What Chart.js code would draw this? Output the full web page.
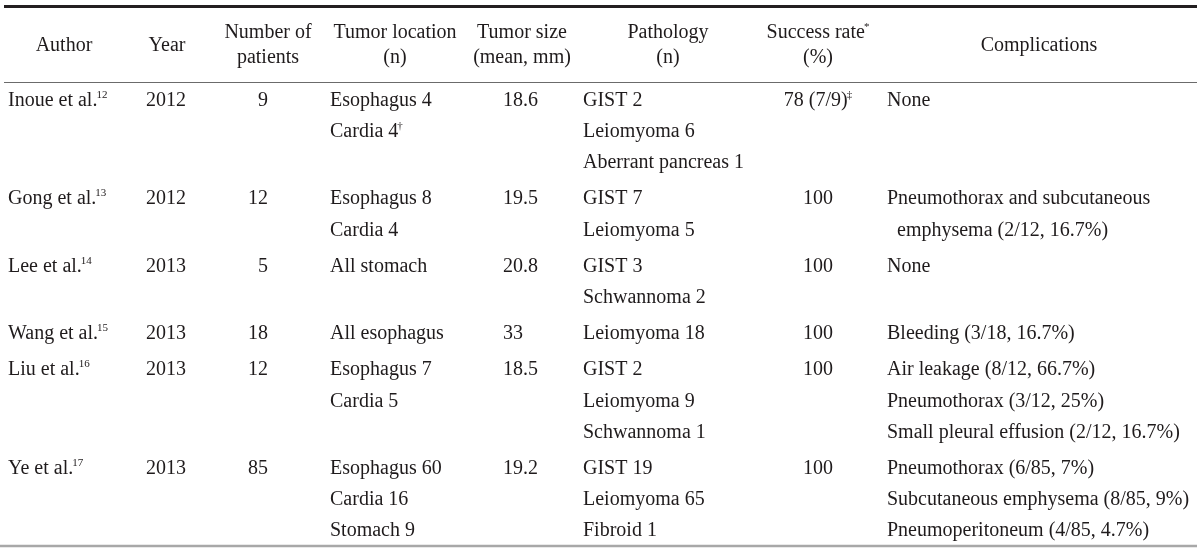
<!DOCTYPE html>
<html>
<head>
<meta charset="utf-8">
<script src="https://cdn.jsdelivr.net/npm/chart.js@4/dist/chart.umd.min.js"></script>
<style>
html,body{margin:0;padding:0;background:#fff;}
#wrap{width:1200px;height:554px;}
</style>
</head>
<body>
<div id="wrap"><canvas id="c" width="1200" height="554"></canvas></div>
<script>
// ---- table data ----
const headers = [['Author'], ['Year'], ['Number of', 'patients'], ['Tumor location', '(n)'], ['Tumor size', '(mean, mm)'], ['Pathology', '(n)'], ['Success rate^*', '(%)'], ['Complications']];
const authors = ['Inoue et al.', 'Gong et al.', 'Lee et al.', 'Wang et al.', 'Liu et al.', 'Ye et al.'];
const authorRefs = ['12', '13', '14', '15', '16', '17'];
const years = ['2012', '2012', '2013', '2013', '2013', '2013'];
const patients = [9, 12, 5, 18, 12, 85];
const tumorLocation = [['Esophagus 4', 'Cardia 4^†'], ['Esophagus 8', 'Cardia 4'], ['All stomach'], ['All esophagus'], ['Esophagus 7', 'Cardia 5'], ['Esophagus 60', 'Cardia 16', 'Stomach 9']];
const tumorSize = ['18.6', '19.5', '20.8', '33', '18.5', '19.2'];
const pathology = [['GIST 2', 'Leiomyoma 6', 'Aberrant pancreas 1'], ['GIST 7', 'Leiomyoma 5'], ['GIST 3', 'Schwannoma 2'], ['Leiomyoma 18'], ['GIST 2', 'Leiomyoma 9', 'Schwannoma 1'], ['GIST 19', 'Leiomyoma 65', 'Fibroid 1']];
const successRate = ['78 (7/9)^‡', '100', '100', '100', '100', '100'];
const complications = [['None'], ['Pneumothorax and subcutaneous emphysema (2/12, 16.7%)'], ['None'], ['Bleeding (3/18, 16.7%)'], ['Air leakage (8/12, 66.7%)', 'Pneumothorax (3/12, 25%)', 'Small pleural effusion (2/12, 16.7%)'], ['Pneumothorax (6/85, 7%)', 'Subcutaneous emphysema (8/85, 9%)', 'Pneumoperitoneum (4/85, 4.7%)']];

// ---- layout (positions / styles only) ----
const FONT_FAMILY = '"Liberation Serif", "DejaVu Serif", serif';
const layout = {
  colX: [8, 166, 268, 330, 503, 583, 818, 887],
  colAlign: ['left', 'center', 'right', 'left', 'left', 'left', 'center', 'left'],
  headX: [64, 167, 268, 395, 522, 668, 818, 1039],
  headY1: 33, headY2: 58, headY: 46,
  firstLineY: 100.5, lineH: 31.2, rowGap: 5,
  wrapW: 310, indent: 10,
  fontSize: 20, supSize: 11, supRise: 5.5, supGap: -1,
  textColor: '#1f1b1c'
};

const measureCtx = document.createElement('canvas').getContext('2d');
measureCtx.font = layout.fontSize + 'px ' + FONT_FAMILY;
function wrapText(s) {
  const words = s.split(' ');
  const out = [];
  let cur = '';
  for (const w of words) {
    const t = cur ? cur + ' ' + w : w;
    const maxW = layout.wrapW - (out.length ? layout.indent : 0);
    if (cur && measureCtx.measureText(t).width > maxW) { out.push(cur); cur = w; }
    else cur = t;
  }
  if (cur) out.push(cur);
  return out.map((t, i) => ({ t, cont: i > 0 }));
}
function splitSup(s) {
  s = String(s);
  const i = s.indexOf('^');
  return i < 0 ? { text: s, sup: '' } : { text: s.slice(0, i), sup: s.slice(i + 1) };
}

// Build cell points
const cells = [];
headers.forEach((h, c) => {
  const ys = h.length === 2 ? [layout.headY1, layout.headY2] : [layout.headY];
  h.forEach((line, j) => {
    const p = splitSup(line);
    cells.push({ x: layout.headX[c], y: ys[j], text: p.text, sup: p.sup, align: 'center' });
  });
});
let linesBefore = 0;
authors.forEach((a, r) => {
  const cols = [
    [{ t: a + '^' + authorRefs[r] }],
    [{ t: years[r] }],
    [{ t: String(patients[r]) }],
    tumorLocation[r].map(t => ({ t })),
    [{ t: tumorSize[r] }],
    pathology[r].map(t => ({ t })),
    [{ t: successRate[r] }],
    complications[r].flatMap(item => wrapText(item))
  ];
  let maxLines = 0;
  cols.forEach((lines, c) => {
    maxLines = Math.max(maxLines, lines.length);
    lines.forEach((ln, j) => {
      const p = splitSup(ln.t);
      cells.push({
        x: layout.colX[c] + (ln.cont ? layout.indent : 0),
        y: layout.firstLineY + (linesBefore + j) * layout.lineH + r * layout.rowGap,
        text: p.text, sup: p.sup, align: layout.colAlign[c]
      });
    });
  });
  linesBefore += maxLines;
});

function rule(y, x0, x1, w, color) {
  return { type: 'line', data: [{ x: x0, y }, { x: x1, y }], borderColor: color, borderWidth: w,
           pointRadius: 0, showLine: true, fill: false, clip: false, order: 1 };
}

const cellTextPlugin = {
  id: 'cellText',
  afterDatasetsDraw(chart) {
    const idx = chart.data.datasets.findIndex(d => d.isCells);
    const meta = chart.getDatasetMeta(idx);
    const ds = chart.data.datasets[idx];
    const ctx = chart.ctx;
    ctx.save();
    ctx.fillStyle = layout.textColor;
    ctx.textBaseline = 'middle';
    ctx.textAlign = 'left';
    meta.data.forEach((pt, i) => {
      const d = ds.data[i];
      ctx.font = layout.fontSize + 'px ' + FONT_FAMILY;
      const w = ctx.measureText(d.text).width;
      ctx.font = layout.supSize + 'px ' + FONT_FAMILY;
      const gap = d.sup ? layout.supGap : 0;
      const ws = d.sup ? ctx.measureText(d.sup).width : 0;
      const total = w + gap + ws;
      let x0 = pt.x;
      if (d.align === 'center') x0 = pt.x - total / 2;
      else if (d.align === 'right') x0 = pt.x - total;
      ctx.font = layout.fontSize + 'px ' + FONT_FAMILY;
      ctx.fillText(d.text, x0, pt.y);
      if (d.sup) {
        ctx.font = layout.supSize + 'px ' + FONT_FAMILY;
        ctx.fillText(d.sup, x0 + w + gap, pt.y - layout.supRise);
      }
    });
    ctx.restore();
  }
};

new Chart(document.getElementById('c'), {
  type: 'scatter',
  data: {
    datasets: [
      rule(6.5, 4, 1197, 3, '#231f20'),
      rule(82.5, 4, 1197, 1.2, '#6b6b6b'),
      rule(546, 0, 1197, 2.6, '#a8a8a8'),
      { isCells: true, data: cells, pointRadius: 0, pointHoverRadius: 0, order: 0 }
    ]
  },
  options: {
    responsive: false,
    animation: false,
    events: [],
    layout: { padding: 0 },
    plugins: { legend: { display: false }, tooltip: { enabled: false } },
    scales: {
      x: { type: 'linear', min: 0, max: 1200, display: false },
      y: { type: 'linear', min: 0, max: 554, reverse: true, display: false }
    }
  },
  plugins: [cellTextPlugin]
});
</script>
</body>
</html>
